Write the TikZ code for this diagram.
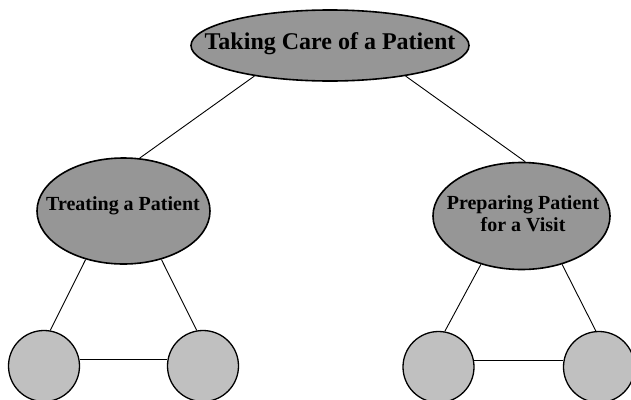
\documentclass[tikz,border=0pt]{standalone}
\usepackage{fontspec}
\setmainfont{Liberation Serif}
\usetikzlibrary{shapes.geometric}
\definecolor{ellgray}{RGB}{150,150,150}
\definecolor{leafgray}{RGB}{192,192,192}
\begin{document}
\begin{tikzpicture}[x=1pt,y=-1pt,
  bigell/.style={ellipse,draw,line width=1.6pt,fill=ellgray,inner sep=0pt},
  lbl/.style={inner sep=0pt,align=center,font=\bfseries\fontsize{20}{22}\selectfont},
  leaf/.style={circle,draw,line width=1.3pt,fill=leafgray,minimum size=71pt,inner sep=0pt},
  link/.style={line width=0.9pt}]
\useasboundingbox (0,0) rectangle (631,399);
\node[bigell,minimum width=278pt,minimum height=71pt] (root) at (330,45.5) {};
\node[lbl,font=\bfseries\fontsize{24}{26}\selectfont] (roottext) at (330,43.5) {Taking Care of a Patient};
\node[bigell,minimum width=173pt,minimum height=106pt] (treat) at (123.5,211) {};
\node[lbl] (treattext) at (123,206) {Treating a Patient};
\node[bigell,minimum width=177pt,minimum height=107pt] (prep) at (521.5,216) {};
\node[lbl] (preptext) at (523,214) {Preparing Patient\\for a Visit};
\node[leaf] (t1) at (44,366) {};
\node[leaf] (t2) at (203,366) {};
\node[leaf] (p1) at (438.5,367) {};
\node[leaf] (p2) at (599,367) {};
\draw[link] (root.202) -- (treat.73);
\draw[link] (root.338) -- (prep.86);
\draw[link] (treat.232) -- (t1.80);
\draw[link] (treat.308) -- (t2.100);
\draw[link] (t1.10) -- (t2.170);
\draw[link] (prep.230) -- (p1.80);
\draw[link] (prep.310) -- (p2.95);
\draw[link] (p1.10) -- (p2.170);
\end{tikzpicture}
\end{document}
